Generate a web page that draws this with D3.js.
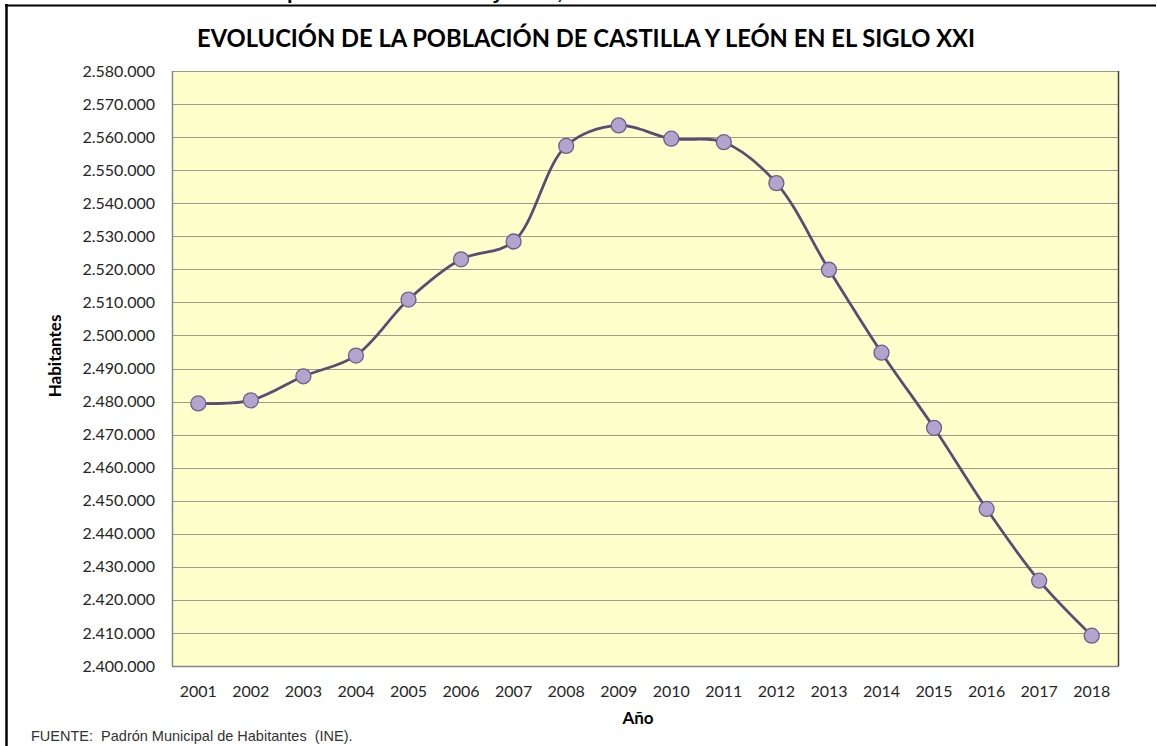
<!DOCTYPE html>
<html lang="es">
<head>
    <meta charset="UTF-8">
    <title>Evolución de la población de Castilla y León</title>
    <script src="https://d3js.org/d3.v7.min.js"></script>
    <style>
        body {
            margin: 0;
            background-color: #ffffff;
        }
        svg {
            display: block;
        }
    </style>
</head>
<body>
    <div id="chart"></div>

    <script>
        // Datos (Padrón Municipal, INE)
        const years = ["2001", "2002", "2003", "2004", "2005", "2006", "2007", "2008", "2009",
                       "2010", "2011", "2012", "2013", "2014", "2015", "2016", "2017", "2018"];
        const population = [2479425, 2480369, 2487646, 2493918, 2510849, 2523020, 2528417, 2557330, 2563521,
                            2559515, 2558463, 2546078, 2519875, 2494790, 2472052, 2447519, 2425801, 2409164];
        const yTicks = d3.range(2400000, 2580001, 10000);

        const width = 1157;
        const height = 746;
        const plot = { left: 172, right: 1118, top: 71, bottom: 666 };

        const es = d3.formatLocale({ decimal: ",", thousands: ".", grouping: [3], currency: ["", "€"] });
        const fmt = es.format(",d");

        const x = d3.scalePoint().domain(years).range([plot.left, plot.right]).padding(0.5);
        const y = d3.scaleLinear().domain([2400000, 2580000]).range([plot.bottom, plot.top]);

        const svg = d3.select("#chart")
            .append("svg")
            .attr("width", width)
            .attr("height", height);

        // marco exterior
        svg.append("line").attr("x1", 6.5).attr("x2", 6.5).attr("y1", 4).attr("y2", height)
            .attr("stroke", "#000").attr("stroke-width", 2.5);
        svg.append("line").attr("x1", 5).attr("x2", 1156).attr("y1", 5.5).attr("y2", 5.5)
            .attr("stroke", "#000").attr("stroke-width", 2);

        // texto cortado por encima del marco
        svg.append("text")
            .attr("x", 287).attr("y", -1)
            .attr("font-family", "Liberation Sans, Arial, sans-serif")
            .attr("font-weight", "bold").attr("font-size", 20)
            .text("población de Castilla y León, 2001-2018");

        // área del gráfico
        svg.append("rect")
            .attr("x", plot.left).attr("y", plot.top)
            .attr("width", plot.right - plot.left).attr("height", plot.bottom - plot.top)
            .attr("fill", "#ffffcc");

        // líneas de división
        svg.append("g")
            .selectAll("line")
            .data(yTicks)
            .join("line")
            .attr("x1", plot.left).attr("x2", plot.right)
            .attr("y1", d => Math.round(y(d)) + 0.5).attr("y2", d => Math.round(y(d)) + 0.5)
            .attr("stroke", "#9c9a88").attr("stroke-width", 1.2);

        // ejes
        svg.append("line").attr("x1", plot.left + 0.5).attr("x2", plot.left + 0.5)
            .attr("y1", plot.top).attr("y2", plot.bottom + 0.5)
            .attr("stroke", "#868686").attr("stroke-width", 1.5);
        svg.append("line").attr("x1", plot.left).attr("x2", plot.right)
            .attr("y1", plot.bottom + 0.5).attr("y2", plot.bottom + 0.5)
            .attr("stroke", "#868686").attr("stroke-width", 1.5);
        svg.append("line").attr("x1", plot.right + 0.5).attr("x2", plot.right + 0.5)
            .attr("y1", plot.top).attr("y2", plot.bottom + 0.5)
            .attr("stroke", "#404040").attr("stroke-width", 1.5);

        // etiquetas eje Y
        svg.append("g")
            .selectAll("text")
            .data(yTicks)
            .join("text")
            .attr("x", 155)
            .attr("y", d => y(d))
            .attr("dy", "0.35em")
            .attr("text-anchor", "end")
            .attr("font-family", "Lato, sans-serif")
            .attr("font-size", 16)
            .attr("fill", "#262626")
            .text(d => fmt(d));

        // etiquetas eje X
        svg.append("g")
            .selectAll("text")
            .data(years)
            .join("text")
            .attr("x", d => x(d))
            .attr("y", 697)
            .attr("text-anchor", "middle")
            .attr("font-family", "Lato, sans-serif")
            .attr("font-size", 16)
            .attr("fill", "#262626")
            .text(d => d);

        // línea suavizada
        const line = d3.line()
            .x((d, i) => x(years[i]))
            .y(d => y(d))
            .curve(d3.curveCatmullRom.alpha(0.5));

        svg.append("path")
            .datum(population)
            .attr("fill", "none")
            .attr("stroke", "#5b4c74")
            .attr("stroke-width", 2.8)
            .attr("d", line);

        // marcadores
        svg.append("g")
            .selectAll("circle")
            .data(population)
            .join("circle")
            .attr("cx", (d, i) => x(years[i]))
            .attr("cy", d => y(d))
            .attr("r", 7.5)
            .attr("fill", "#b3a3cf")
            .attr("stroke", "#6e5f8a")
            .attr("stroke-width", 1.3);

        // títulos
        svg.append("text")
            .attr("x", 586).attr("y", 47)
            .attr("text-anchor", "middle")
            .attr("font-family", "Lato, sans-serif")
            .attr("font-weight", "bold")
            .attr("font-size", 25)
            .attr("textLength", 778)
            .attr("lengthAdjust", "spacingAndGlyphs")
            .text("EVOLUCIÓN DE LA POBLACIÓN DE CASTILLA Y LEÓN EN EL SIGLO XXI");

        svg.append("text")
            .attr("transform", "translate(61,356) rotate(-90)")
            .attr("text-anchor", "middle")
            .attr("font-family", "Lato, sans-serif")
            .attr("font-weight", "bold")
            .attr("font-size", 17)
            .text("Habitantes");

        svg.append("text")
            .attr("x", 638).attr("y", 724)
            .attr("text-anchor", "middle")
            .attr("font-family", "Lato, sans-serif")
            .attr("font-weight", "bold")
            .attr("font-size", 17)
            .text("Año");

        svg.append("text")
            .attr("x", 31).attr("y", 741)
            .attr("font-family", "Liberation Sans, Arial, sans-serif")
            .attr("font-size", 14.5)
            .attr("fill", "#333")
            .style("white-space", "pre")
            .text("FUENTE:  Padrón Municipal de Habitantes  (INE).");
    </script>
</body>
</html>
